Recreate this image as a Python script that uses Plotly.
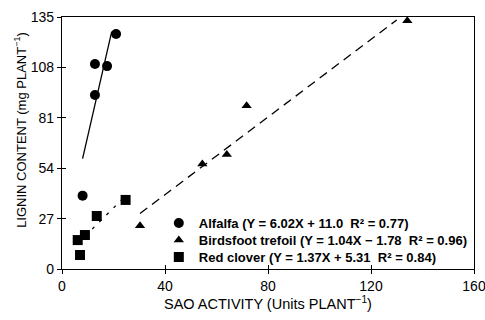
import plotly.graph_objects as go

# Data
alf_x = [8.0, 12.8, 12.8, 17.5, 21.0]
alf_y = [39.3, 93.2, 109.8, 108.7, 125.9]
bft_x = [30.3, 54.5, 64.0, 71.7, 134.1]
bft_y = [23.2, 56.2, 61.4, 87.5, 133.0]
rc_x = [6.1, 7.0, 8.9, 13.5, 24.7]
rc_y = [15.5, 7.5, 18.2, 28.4, 37.0]

# regression lines (slope, intercept, x-range)
alf_fit = (6.02, 11.0, [8.0, 19.3])
bft_fit = (1.04, -1.78, [30.3, 130.0])
rc_fit = (1.37, 5.31, [9.0, 24.0])

legend_names = [
    "Alfalfa (Y = 6.02X + 11.0  R² = 0.77)",
    "Birdsfoot trefoil (Y = 1.04X − 1.78  R² = 0.96)",
    "Red clover (Y = 1.37X + 5.31  R² = 0.84)",
]
x_ticks = [0, 40, 80, 120, 160]
y_ticks = [0, 27, 54, 81, 108, 135]
x_title = "SAO ACTIVITY (Units PLANT<sup>−1</sup>)"
y_title = "LIGNIN CONTENT (mg PLANT<sup>−1</sup>)"

fig = go.Figure()


def fit_line(fit, dash):
    m, b, xr = fit
    return go.Scatter(x=xr, y=[m * v + b for v in xr], mode="lines",
                      line=dict(color="black", width=1.3, dash=dash),
                      showlegend=False, hoverinfo="skip")


fig.add_trace(fit_line(alf_fit, "solid"))
fig.add_trace(fit_line(bft_fit, "9px,6px"))
fig.add_trace(fit_line(rc_fit, "3px,7px"))

fig.add_trace(go.Scatter(x=alf_x, y=alf_y, mode="markers", name=legend_names[0],
                         legend="legend",
                         marker=dict(symbol="circle", size=10, color="black")))
fig.add_trace(go.Scatter(x=bft_x, y=bft_y, mode="markers", name=legend_names[1],
                         legend="legend2",
                         marker=dict(symbol="triangle-up", size=9, color="black")))
fig.add_trace(go.Scatter(x=rc_x, y=rc_y, mode="markers", name=legend_names[2],
                         legend="legend3",
                         marker=dict(symbol="square", size=10, color="black")))

# invisible trace for the overlay axes carrying inner tick marks
fig.add_trace(go.Scatter(x=[None], y=[None], xaxis="x2", yaxis="y2",
                         showlegend=False, hoverinfo="skip"))

axis_common = dict(showgrid=False, zeroline=False, showline=True, linecolor="black",
                   linewidth=1.3, mirror=True, ticks="outside", ticklen=4,
                   tickwidth=1.2, tickcolor="black", ticklabeloverflow="allow",
                   tickfont=dict(size=14, color="black"), automargin=False)
inner_common = dict(showgrid=False, zeroline=False, showline=False, ticks="inside",
                    ticklen=4, tickwidth=1.2, tickcolor="black",
                    showticklabels=False, automargin=False)

legend_font = dict(size=13, family="Arial, Liberation Sans, sans-serif", weight="bold")


def leg(y):
    return dict(x=0.235, y=y, xanchor="left", yanchor="middle",
                bgcolor="rgba(0,0,0,0)", font=legend_font, itemwidth=30)


fig.update_layout(
    width=485, height=320,
    margin=dict(l=62, r=11, t=17, b=51),
    paper_bgcolor="white", plot_bgcolor="white",
    font=dict(family="Arial, Liberation Sans, sans-serif", color="black", size=11),
    xaxis=dict(range=[0, 160], tickvals=x_ticks, **axis_common),
    yaxis=dict(range=[0, 135], tickvals=y_ticks, **axis_common),
    xaxis2=dict(range=[0, 160], tickvals=x_ticks, overlaying="x", anchor="y2", **inner_common),
    yaxis2=dict(range=[0, 135], tickvals=y_ticks, overlaying="y", anchor="x2", **inner_common),
    legend=leg(0.1825),
    legend2=leg(0.115),
    legend3=leg(0.0476),
    annotations=[
        dict(text=y_title, textangle=-90, xref="paper", yref="paper",
             x=-0.102, y=0.552, xanchor="center", yanchor="middle",
             showarrow=False, font=dict(size=13)),
        dict(text=x_title, xref="paper", yref="paper",
             x=0.5, y=-0.135, xanchor="center", yanchor="middle",
             showarrow=False, font=dict(size=14.5)),
    ],
)

fig.write_html("out.html")
